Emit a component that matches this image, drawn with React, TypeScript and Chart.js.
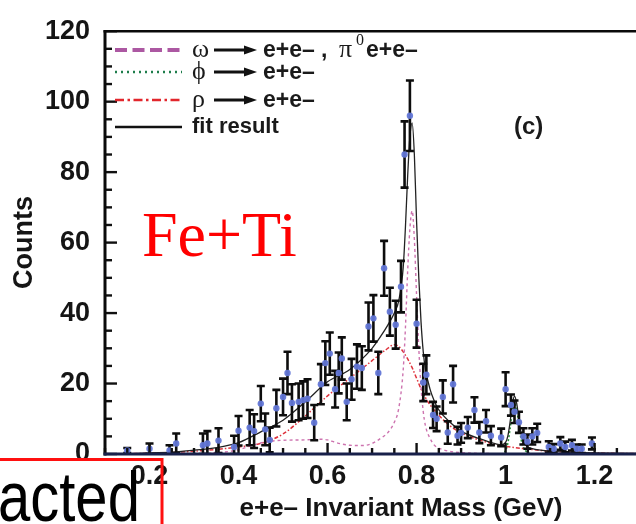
import React, { useEffect, useRef } from 'react';
import { Chart, registerables } from 'chart.js';

Chart.register(...registerables);

// ---- measured data points (e+e- invariant mass in GeV, counts, error) ----
const massBins = [0.15, 0.2, 0.245, 0.26, 0.32, 0.33, 0.355, 0.39, 0.4, 0.425, 0.435, 0.45, 0.46, 0.47, 0.485, 0.5, 0.51, 0.52, 0.535, 0.545, 0.555, 0.57, 0.585, 0.595, 0.605, 0.617, 0.625, 0.632, 0.643, 0.654, 0.666, 0.677, 0.692, 0.703, 0.714, 0.727, 0.74, 0.753, 0.765, 0.773, 0.785, 0.8, 0.815, 0.822, 0.837, 0.845, 0.859, 0.87, 0.882, 0.892, 0.9, 0.915, 0.93, 0.941, 0.956, 0.967, 0.99, 1.0, 1.012, 1.02, 1.03, 1.04, 1.049, 1.06, 1.071, 1.097, 1.108, 1.123, 1.134, 1.149, 1.16, 1.171, 1.194];
const counts = [1, 1.5, 1, 3, 2.5, 3, 3.8, 2, 6.6, 7.5, 6.5, 14.3, 7, 4, 13, 16.2, 23, 14.5, 14.8, 15.3, 15.7, 8.9, 19.8, 25.8, 28.5, 18.4, 23, 27.1, 14.8, 21.2, 24.8, 24.4, 36.2, 38.5, 23, 52.7, 40.4, 36.7, 47.5, 85, 96, 37, 20.3, 22.5, 11.1, 10, 16.2, 6.1, 19.8, 5.2, 6, 7.5, 12.5, 6.1, 9.3, 5.2, 4.7, 18.4, 13.9, 12, 9, 5, 3.5, 5, 6, 2, 1.5, 3, 2, 2.5, 1.5, 1.5, 3];
const countErrors = [0.7, 1.5, 1.5, 2.8, 3.3, 3.5, 3.5, 3.2, 4.2, 5, 4.8, 5, 4.5, 3.5, 5.2, 5.2, 6, 5.3, 5.2, 5.3, 5.5, 5, 5.7, 6.2, 6, 5.2, 5.8, 6, 5.2, 5.8, 6.3, 6.2, 6.8, 6.6, 6, 7.8, 6.8, 6.8, 7.3, 9.4, 10, 6.8, 5.3, 5.5, 3.7, 3.5, 4.7, 3.2, 5.2, 2.5, 2.8, 3, 3.6, 3, 3.2, 2.7, 2.5, 4.8, 3, 3.2, 3, 2.3, 2, 2.3, 2.6, 1.6, 1.3, 1.8, 1.5, 1.5, 1.2, 1.2, 1.7];

// ---- fit components ----
const omegaMass = [0.1, 0.3, 0.35, 0.4, 0.43, 0.46, 0.5, 0.55, 0.58, 0.6, 0.62, 0.65, 0.68, 0.7, 0.72, 0.735, 0.75, 0.76, 0.77, 0.775, 0.78, 0.785, 0.79, 0.795, 0.8, 0.805, 0.81, 0.815, 0.82, 0.83, 0.84, 0.86, 0.9, 1.0, 1.43];
const omegaCounts = [0, 0, 0.3, 1.2, 2.4, 3.4, 3.9, 4.0, 4.2, 4.0, 3.2, 2.5, 2.4, 3.0, 4.5, 6, 9, 13, 24, 36, 52, 64, 69, 61, 45, 30, 19, 12, 8, 4.5, 2.5, 1.2, 0.4, 0.1, 0];

const phiMass = [0.1, 0.98, 0.99, 1.0, 1.005, 1.01, 1.015, 1.02, 1.025, 1.03, 1.035, 1.04, 1.05, 1.06, 1.43];
const phiCounts = [0, 0, 0, 1, 3, 7, 12, 14.5, 12.5, 8, 4, 1.8, 0.4, 0, 0];

const rhoMass = [0.1, 0.2, 0.25, 0.3, 0.35, 0.4, 0.45, 0.5, 0.55, 0.6, 0.65, 0.7, 0.73, 0.75, 0.76, 0.77, 0.78, 0.79, 0.8, 0.81, 0.82, 0.83, 0.85, 0.875, 0.9, 0.95, 1.0, 1.05, 1.1, 1.2, 1.43];
const rhoCounts = [0, 0.2, 0.4, 0.8, 1.3, 2, 3, 5.7, 10.8, 16.5, 21.5, 26.5, 29.5, 31, 30.5, 29, 27, 24.5, 21.5, 18.5, 16, 14, 11, 8, 6, 3.6, 2.2, 1.4, 0.8, 0.3, 0.05];

const fitMass = [0.15, 0.2, 0.25, 0.3, 0.35, 0.4, 0.45, 0.5, 0.55, 0.6, 0.65, 0.7, 0.72, 0.735, 0.75, 0.76, 0.77, 0.775, 0.78, 0.785, 0.79, 0.795, 0.8, 0.805, 0.81, 0.815, 0.82, 0.83, 0.84, 0.85, 0.875, 0.9, 0.95, 0.98, 0.99, 1.0, 1.005, 1.01, 1.015, 1.02, 1.025, 1.03, 1.035, 1.04, 1.05, 1.06, 1.1, 1.15, 1.2, 1.43];
const fitCounts = [0, 0.3, 0.5, 1.1, 1.8, 3.2, 6.3, 9.6, 14.8, 20.5, 24, 30, 33.5, 36.5, 40, 43.5, 53, 64.5, 79, 90, 94, 85, 66, 50, 37.5, 29, 24, 18.5, 15, 12.5, 9, 6.5, 4, 2.8, 2.6, 3.3, 5.1, 9, 14, 16.4, 14.3, 9.8, 5.8, 3.5, 2, 1.5, 0.8, 0.5, 0.3, 0.1];

// ---- axes ----
const xRange = [0.1, 1.43];
const yRange = [0, 120];
const xTickValues = [0.2, 0.4, 0.6, 0.8, 1.0, 1.2];
const xTickLabels = ['0.2', '0.4', '0.6', '0.8', '1', '1.2'];
const yTickValues = [0, 20, 40, 60, 80, 100, 120];
const yTickLabels = ['0', '20', '40', '60', '80', '100', '120'];
const xTitle = 'e+e\u2013 Invariant Mass (GeV)';
const yTitle = 'Counts';

const SANS = '"Liberation Sans", Arial, Helvetica, sans-serif';
const SERIF = '"Liberation Serif", "DejaVu Serif", "Times New Roman", serif';

const toPoints = (xs: number[], ys: number[]) => xs.map((x, i) => ({ x, y: ys[i] }));

function line(ctx: CanvasRenderingContext2D, x0: number, y0: number, x1: number, y1: number) {
  ctx.beginPath();
  ctx.moveTo(x0, y0);
  ctx.lineTo(x1, y1);
  ctx.stroke();
}

function arrow(ctx: CanvasRenderingContext2D, x0: number, x1: number, y: number) {
  ctx.save();
  ctx.setLineDash([]);
  ctx.strokeStyle = '#111';
  ctx.fillStyle = '#111';
  ctx.lineWidth = 3;
  line(ctx, x0, y, x1 - 8, y);
  ctx.beginPath();
  ctx.moveTo(x1, y);
  ctx.lineTo(x1 - 13, y - 4.5);
  ctx.lineTo(x1 - 13, y + 4.5);
  ctx.closePath();
  ctx.fill();
  ctx.restore();
}

const decorPlugin = {
  id: 'decor',
  beforeDatasetDraw(chart: any, args: any) {
    if (args.index !== 0) return;
    const { ctx } = chart;
    const xs = chart.scales.x;
    const ys = chart.scales.y;
    const area = chart.chartArea;
    ctx.save();
    ctx.beginPath();
    ctx.rect(area.left, area.top, area.right - area.left, area.bottom - area.top);
    ctx.clip();
    ctx.strokeStyle = '#0d0d0d';
    ctx.lineWidth = 2.6;
    massBins.forEach((m, i) => {
      const x = xs.getPixelForValue(m);
      const yTop = ys.getPixelForValue(counts[i] + countErrors[i]);
      const yBot = ys.getPixelForValue(Math.max(0, counts[i] - countErrors[i]));
      line(ctx, x, yTop, x, yBot);
      line(ctx, x - 4, yTop, x + 4, yTop);
      line(ctx, x - 4, yBot, x + 4, yBot);
    });
    ctx.restore();
  },
  afterDraw(chart: any) {
    const { ctx } = chart;
    const xs = chart.scales.x;
    const ys = chart.scales.y;
    const { left, top, right, bottom } = chart.chartArea;
    ctx.save();
    ctx.setLineDash([]);
    ctx.lineCap = 'butt';
    // inward ticks
    ctx.strokeStyle = '#111';
    ctx.lineWidth = 2.4;
    for (let v = yRange[0]; v <= yRange[1]; v += 5) {
      const y = ys.getPixelForValue(v);
      line(ctx, left, y, left + (v % 20 === 0 ? 12 : 7), y);
    }
    for (let i = 2; i <= 30; i++) {
      const x = xs.getPixelForValue(i * 0.05);
      if (x >= right) continue;
      line(ctx, x, bottom, x, bottom - (i % 4 === 0 ? 11 : 6));
    }
    // frame
    ctx.strokeStyle = '#0a0a0a';
    ctx.lineWidth = 3;
    line(ctx, left, top - 1, left, bottom + 1.5);
    ctx.lineWidth = 2.6;
    line(ctx, left - 1.5, top, right, top);
    ctx.strokeStyle = '#18204a';
    ctx.lineWidth = 3;
    line(ctx, left - 1.5, bottom, right, bottom);

    // legend
    const lx0 = 115;
    const lx1 = 182;
    const rows = [50, 72, 100, 127];
    ctx.lineWidth = 4;
    ctx.strokeStyle = 'rgb(172,88,162)';
    ctx.setLineDash([12, 5.5]);
    line(ctx, lx0, rows[0], lx1, rows[0]);
    ctx.lineWidth = 2.4;
    ctx.strokeStyle = 'rgb(30,125,75)';
    ctx.setLineDash([2, 4]);
    line(ctx, lx0, rows[1], lx1, rows[1]);
    ctx.lineWidth = 2.6;
    ctx.strokeStyle = 'rgb(226,38,44)';
    ctx.setLineDash([9, 3.5, 2.5, 3.5]);
    line(ctx, lx0, rows[2], lx1, rows[2]);
    ctx.setLineDash([]);
    ctx.lineWidth = 2.6;
    ctx.strokeStyle = '#111';
    line(ctx, lx0, rows[3], lx1, rows[3]);

    ctx.fillStyle = '#1a1a1a';
    ctx.textBaseline = 'alphabetic';
    ctx.textAlign = 'left';
    const greek = ['\u03c9', '\u03d5', '\u03c1'];
    greek.forEach((g, i) => {
      ctx.font = `26px ${SERIF}`;
      ctx.fillText(g, 192, rows[i] + 7);
      arrow(ctx, 214, 257, rows[i]);
      ctx.font = `bold 23px ${SANS}`;
      ctx.fillText('e+e\u2013', 263, rows[i] + 7);
    });
    ctx.font = `bold 23px ${SANS}`;
    ctx.fillText(',', 321, rows[0] + 7);
    ctx.font = `26px ${SERIF}`;
    ctx.fillText('\u03c0', 339, rows[0] + 7);
    ctx.font = `16px ${SERIF}`;
    ctx.fillText('0', 356, rows[0] - 5);
    ctx.font = `bold 23px ${SANS}`;
    ctx.fillText('e+e\u2013', 366, rows[0] + 7);
    ctx.font = `bold 22px ${SANS}`;
    ctx.fillText('fit result', 192, rows[3] + 6);

    // panel label
    ctx.font = `bold 24px ${SANS}`;
    ctx.fillText('(c)', 514, 134);

    // red annotation
    ctx.fillStyle = '#ff0000';
    ctx.font = `64px ${SERIF}`;
    ctx.fillText('Fe+Ti', 142, 256);

    // red box with cut-off word
    ctx.strokeStyle = '#ff1010';
    ctx.lineWidth = 3;
    ctx.strokeRect(-6, 459.5, 168, 100);
    ctx.fillStyle = '#000';
    ctx.save();
    ctx.translate(-2, 521);
    ctx.scale(1, 1.22);
    ctx.font = `58px ${SANS}`;
    ctx.fillText('acted', 0, 0);
    ctx.restore();
    ctx.restore();
  },
};

export default function App() {
  const canvasRef = useRef<HTMLCanvasElement | null>(null);

  useEffect(() => {
    const canvas = canvasRef.current;
    if (!canvas) return;
    const tickFont = { family: SANS, size: 27, weight: 'bold' as const };
    const chart = new Chart(canvas, {
      type: 'line',
      data: {
        datasets: [
          {
            label: 'data',
            data: toPoints(massBins, counts),
            showLine: false,
            pointRadius: 3.2,
            pointBackgroundColor: 'rgba(98,118,214,0.95)',
            pointBorderWidth: 0,
            order: 0,
          },
          {
            label: 'fit result',
            data: toPoints(fitMass, fitCounts),
            borderColor: '#222',
            borderWidth: 1.3,
            pointRadius: 0,
            cubicInterpolationMode: 'monotone',
            order: 1,
          },
          {
            label: 'omega',
            data: toPoints(omegaMass, omegaCounts),
            borderColor: 'rgb(205,115,175)',
            borderWidth: 1.4,
            borderDash: [3, 3],
            pointRadius: 0,
            cubicInterpolationMode: 'monotone',
            order: 2,
          },
          {
            label: 'rho',
            data: toPoints(rhoMass, rhoCounts),
            borderColor: 'rgb(222,50,60)',
            borderWidth: 1.5,
            borderDash: [4, 2, 1.5, 2],
            pointRadius: 0,
            cubicInterpolationMode: 'monotone',
            order: 3,
          },
          {
            label: 'phi',
            data: toPoints(phiMass, phiCounts),
            borderColor: 'rgb(40,150,60)',
            borderWidth: 1.5,
            borderDash: [2, 2],
            pointRadius: 0,
            cubicInterpolationMode: 'monotone',
            order: 4,
          },
        ],
      },
      options: {
        animation: false,
        responsive: false,
        devicePixelRatio: 1,
        layout: { padding: { top: 17, left: 0, right: 0, bottom: 0 } },
        plugins: { legend: { display: false }, tooltip: { enabled: false } },
        scales: {
          x: {
            type: 'linear',
            min: xRange[0],
            max: xRange[1],
            grid: { display: false, drawTicks: false },
            border: { display: false },
            afterBuildTicks: (s: any) => {
              s.ticks = xTickValues.map((v) => ({ value: v }));
            },
            afterFit: (s: any) => {
              s.height = 70;
            },
            ticks: {
              autoSkip: false,
              maxRotation: 0,
              padding: 6,
              color: '#151515',
              font: tickFont,
              callback: (v: any) => {
                const i = xTickValues.indexOf(Number(v));
                return i >= 0 ? xTickLabels[i] : '';
              },
            },
            title: {
              display: true,
              text: xTitle,
              color: '#151515',
              font: { family: SANS, size: 26, weight: 'bold' },
              padding: { top: 0, bottom: 0 },
            },
          },
          y: {
            min: yRange[0],
            max: yRange[1],
            grid: { display: false, drawTicks: false },
            border: { display: false },
            afterBuildTicks: (s: any) => {
              s.ticks = yTickValues.map((v) => ({ value: v }));
            },
            afterFit: (s: any) => {
              s.width = 105;
            },
            ticks: {
              autoSkip: false,
              padding: 15,
              color: '#151515',
              font: tickFont,
              callback: (v: any) => {
                const i = yTickValues.indexOf(Number(v));
                return i >= 0 ? yTickLabels[i] : '';
              },
            },
            title: {
              display: true,
              text: yTitle,
              color: '#151515',
              font: { family: SANS, size: 27, weight: 'bold' },
              padding: { top: 8, bottom: 0 },
            },
          },
        },
      },
      plugins: [decorPlugin],
    } as any);
    return () => chart.destroy();
  }, []);

  return (
    <div style={{ position: 'absolute', left: 0, top: 0, width: 636, height: 524, overflow: 'hidden', background: '#fff' }}>
      <canvas ref={canvasRef} width={701} height={524} style={{ display: 'block', width: 701, height: 524 }} />
    </div>
  );
}
